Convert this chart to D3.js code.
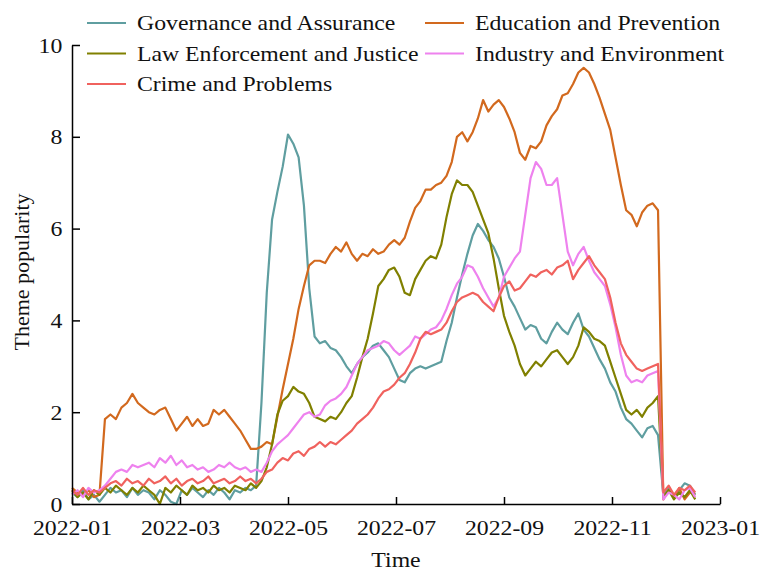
<!DOCTYPE html>
<html>
<head>
<meta charset="utf-8">
<script src="https://cdn.jsdelivr.net/npm/d3@7/dist/d3.min.js"></script>
<style>
  html, body { margin: 0; padding: 0; background: #fff; }
  svg { display: block; font-family: "Liberation Serif", "Times New Roman", serif; }
</style>
</head>
<body>
<svg id="chart" width="761" height="574"></svg>
<script>
// Sampling: one reading every 3 days starting 2022-01-01
const startDay = "2022-01-01";
const stepDays = 3;

const seriesNames = [
  "Governance and Assurance",
  "Education and Prevention",
  "Law Enforcement and Justice",
  "Industry and Environment",
  "Crime and Problems"
];

const governance = [
  0.25,0.15,0.3,0.1,0.2,0.05,0.2,0.35,0.25,0.3,
  0.15,0.35,0.2,0.3,0.25,0.1,0.3,0.2,0.05,0.0,
  0.3,0.2,0.35,0.25,0.15,0.3,0.2,0.35,0.25,0.1,
  0.3,0.25,0.35,0.3,0.4,2.2,4.6,6.2,6.8,7.35,
  8.05,7.85,7.55,6.5,4.7,3.65,3.5,3.55,3.4,3.35,
  3.2,3.0,2.85,3.05,3.2,3.3,3.45,3.5,3.35,3.2,
  2.95,2.7,2.65,2.85,2.95,3.0,2.95,3.0,3.05,3.1,
  3.55,3.95,4.5,5.0,5.45,5.85,6.1,5.95,5.75,5.6,
  5.35,4.95,4.5,4.3,4.05,3.8,3.9,3.85,3.6,3.5,
  3.75,3.95,3.8,3.7,3.95,4.15,3.8,3.65,3.4,3.15,
  2.95,2.65,2.45,2.1,1.85,1.75,1.6,1.45,1.65,1.7,
  1.5,0.2,0.35,0.15,0.3,0.45,0.4,0.2
];

const education = [
  0.35,0.25,0.2,0.3,0.15,0.2,1.85,1.95,1.85,2.1,
  2.2,2.4,2.2,2.1,2.0,1.95,2.05,2.1,1.85,1.6,
  1.75,1.9,1.7,1.85,1.7,1.75,2.05,1.95,2.05,1.9,
  1.75,1.6,1.4,1.2,1.2,1.25,1.35,1.3,1.9,2.5,
  3.05,3.6,4.25,4.75,5.2,5.3,5.3,5.25,5.45,5.6,
  5.5,5.7,5.45,5.3,5.45,5.4,5.55,5.45,5.5,5.65,
  5.75,5.65,5.8,6.15,6.45,6.6,6.85,6.85,6.95,7.0,
  7.15,7.45,8.0,8.1,7.9,8.1,8.4,8.8,8.55,8.7,
  8.8,8.65,8.4,8.1,7.65,7.5,7.8,7.75,7.9,8.25,
  8.45,8.6,8.9,8.95,9.15,9.4,9.5,9.4,9.15,8.85,
  8.5,8.15,7.55,6.95,6.4,6.3,6.05,6.35,6.5,6.55,
  6.4,0.1,0.3,0.15,0.35,0.1,0.25,0.2
];

const lawEnforcement = [
  0.3,0.15,0.25,0.1,0.3,0.2,0.35,0.25,0.4,0.3,
  0.2,0.35,0.25,0.4,0.3,0.2,0.0,0.35,0.25,0.4,
  0.3,0.2,0.4,0.3,0.35,0.25,0.4,0.3,0.35,0.25,
  0.4,0.35,0.3,0.45,0.35,0.5,0.8,1.3,1.95,2.25,
  2.35,2.55,2.45,2.4,2.2,1.9,1.85,1.8,1.9,1.85,
  2.0,2.2,2.35,2.75,3.2,3.6,4.15,4.75,4.9,5.1,
  5.15,4.95,4.6,4.55,4.9,5.1,5.3,5.4,5.35,5.65,
  6.25,6.75,7.05,6.95,6.95,6.8,6.5,6.2,5.9,5.35,
  4.7,4.1,3.75,3.45,3.05,2.8,2.95,3.1,3.0,3.15,
  3.3,3.35,3.2,3.05,3.2,3.45,3.85,3.75,3.6,3.55,
  3.45,3.1,2.75,2.4,2.05,1.95,2.05,1.9,2.1,2.2,
  2.35,0.15,0.3,0.1,0.25,0.15,0.3,0.1
];

const industry = [
  0.2,0.3,0.15,0.35,0.25,0.3,0.4,0.55,0.7,0.75,
  0.7,0.85,0.8,0.85,0.9,0.8,1.0,0.9,1.05,0.85,
  0.95,0.8,0.85,0.75,0.8,0.7,0.75,0.85,0.8,0.9,
  0.8,0.75,0.8,0.7,0.75,0.7,0.9,1.15,1.3,1.4,
  1.5,1.65,1.8,1.95,2.0,1.9,1.95,2.15,2.25,2.3,
  2.4,2.55,2.8,3.05,3.2,3.35,3.4,3.45,3.55,3.5,
  3.35,3.25,3.35,3.45,3.65,3.6,3.7,3.8,3.85,4.0,
  4.25,4.55,4.8,4.95,5.2,5.15,4.95,4.7,4.5,4.3,
  4.5,4.95,5.15,5.35,5.5,6.3,7.1,7.45,7.3,6.95,
  6.95,7.1,6.3,5.5,5.2,5.45,5.6,5.3,5.05,4.9,
  4.75,4.35,3.85,3.25,2.8,2.65,2.7,2.65,2.8,2.85,
  2.9,0.1,0.25,0.2,0.1,0.3,0.35,0.15
];

const crime = [
  0.3,0.2,0.35,0.2,0.3,0.25,0.35,0.45,0.5,0.4,
  0.55,0.45,0.5,0.4,0.55,0.45,0.5,0.6,0.45,0.55,
  0.4,0.5,0.55,0.45,0.5,0.6,0.45,0.5,0.55,0.45,
  0.5,0.6,0.5,0.55,0.45,0.55,0.7,0.75,0.9,1.0,
  0.95,1.1,1.15,1.05,1.2,1.25,1.35,1.25,1.35,1.3,
  1.4,1.5,1.6,1.75,1.85,1.95,2.1,2.3,2.45,2.5,
  2.6,2.75,2.85,3.05,3.3,3.6,3.75,3.7,3.75,3.8,
  3.95,4.2,4.4,4.5,4.55,4.6,4.55,4.4,4.3,4.2,
  4.5,4.75,4.85,4.65,4.7,4.85,5.0,4.95,5.05,5.1,
  5.0,5.15,5.2,5.3,4.9,5.1,5.25,5.4,5.2,5.05,
  4.9,4.5,3.95,3.5,3.25,3.1,2.95,2.9,2.95,3.0,
  3.05,0.25,0.4,0.2,0.35,0.3,0.4,0.25
];

const seriesValues = [governance, education, lawEnforcement, industry, crime];
const seriesColors = ["#5f9ea0", "#d2691e", "#808000", "#ee82ee", "#f0625e"];

const monthTicks = ["2022-01-01","2022-03-01","2022-05-01","2022-07-01","2022-09-01","2022-11-01","2023-01-01"];
const yTicks = [0, 2, 4, 6, 8, 10];

// ---- layout ----
const svg = d3.select("#chart");
const margin = { left: 72, right: 41, top: 45, bottom: 70 };
const W = +svg.attr("width"), H = +svg.attr("height");
const plotW = W - margin.left - margin.right;
const plotH = H - margin.top - margin.bottom;
const stretch = 1.08; // horizontal widening of the serif text

const parse = d3.utcParse("%Y-%m-%d");
const tickDates = monthTicks.map(parse);
const start = parse(startDay);
const dates = governance.map((_, i) => d3.utcDay.offset(start, i * stepDays));

// two-month bands share equal widths along the axis
const x = d3.scaleUtc()
  .domain(tickDates)
  .range(tickDates.map((_, k) => margin.left + k * plotW / (tickDates.length - 1)));
const y = d3.scaleLinear().domain([0, 10]).range([margin.top + plotH, margin.top]);

// ---- data lines ----
const line = d3.line()
  .x((d, i) => x(dates[i]))
  .y(d => y(d));

svg.append("g")
  .selectAll("path")
  .data(seriesValues)
  .join("path")
  .attr("d", d => line(d))
  .attr("fill", "none")
  .attr("stroke", (d, i) => seriesColors[i])
  .attr("stroke-width", 2.2)
  .attr("stroke-linejoin", "round");

// ---- axes ----
const xAxis = d3.axisBottom(x)
  .tickValues(tickDates)
  .tickFormat(d3.utcFormat("%Y-%m"))
  .tickSizeInner(-7)
  .tickSizeOuter(0)
  .tickPadding(15);

const yAxis = d3.axisLeft(y)
  .tickValues(yTicks)
  .tickFormat(d3.format("d"))
  .tickSizeInner(-8)
  .tickSizeOuter(0)
  .tickPadding(9);

const gx = svg.append("g")
  .attr("transform", `translate(0,${margin.top + plotH})`)
  .call(xAxis);
const gy = svg.append("g")
  .attr("transform", `translate(${margin.left},0)`)
  .call(yAxis);

[gx, gy].forEach(g => {
  g.select(".domain").attr("stroke", "#000").attr("stroke-width", 1.5);
  g.selectAll(".tick line").attr("stroke", "#000").attr("stroke-width", 1.5);
  g.selectAll(".tick text")
    .attr("fill", "#111")
    .style("font-family", "'Liberation Serif', 'Times New Roman', serif")
    .style("font-size", "22px");
});
gx.selectAll(".tick text").attr("transform", `scale(${stretch},1)`);
gy.selectAll(".tick text").attr("transform", `scale(${stretch},1)`);

// ---- axis titles ----
svg.append("text")
  .attr("transform", `translate(${margin.left + plotW / 2},567) scale(${stretch},1)`)
  .attr("text-anchor", "middle")
  .attr("fill", "#111")
  .style("font-size", "22px")
  .text("Time");

svg.append("text")
  .attr("transform", `translate(29,272) rotate(-90)`)
  .attr("text-anchor", "middle")
  .attr("fill", "#111")
  .style("font-size", "22px")
  .text("Theme popularity");

// ---- legend (two columns, filled row by row) ----
const legendCols = [87, 425];
const legendRows = [23, 53.5, 84];
const legend = svg.append("g");
seriesNames.forEach((name, i) => {
  const col = i % 2, row = Math.floor(i / 2);
  const lx = legendCols[col], ly = legendRows[row];
  legend.append("line")
    .attr("x1", lx).attr("x2", lx + 39)
    .attr("y1", ly).attr("y2", ly)
    .attr("stroke", seriesColors[i])
    .attr("stroke-width", 2);
  legend.append("text")
    .attr("transform", `translate(${lx + 50},${ly}) scale(${stretch},1)`)
    .attr("dy", "0.33em")
    .attr("fill", "#111")
    .style("font-size", "22px")
    .text(name);
});
</script>
</body>
</html>
